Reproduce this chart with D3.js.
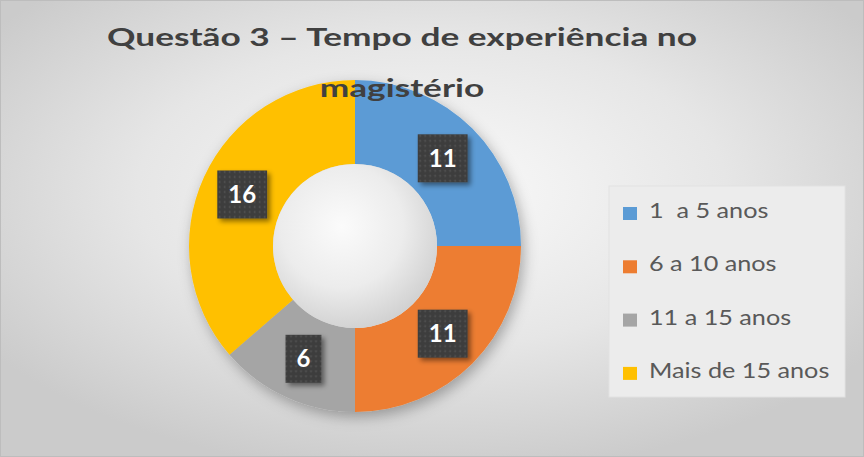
<!DOCTYPE html>
<html>
<head>
<meta charset="utf-8">
<script src="https://cdn.jsdelivr.net/npm/d3@7"></script>
<style>
  html, body { margin: 0; padding: 0; background: #fff; }
  svg { display: block; }
  text { white-space: pre; }
</style>
</head>
<body>
<div id="chart"></div>
<script>
// data
const categories = ["1  a 5 anos", "6 a 10 anos", "11 a 15 anos", "Mais de 15 anos"];
const values = [11, 11, 6, 16];
const colors = ["#5b9bd5", "#ed7d31", "#a5a5a5", "#ffc000"];
const titleLines = ["Questão 3 – Tempo de experiência no", "magistério"];

const W = 864, H = 457;
const cx = 355, cy = 246, rOut = 166, rIn = 82;

const svg = d3.select("#chart").append("svg")
  .attr("width", W).attr("height", H);
const defs = svg.append("defs");

// background gradient
const bg = defs.append("radialGradient").attr("id", "bg")
  .attr("cx", 0.5).attr("cy", 0.42).attr("r", 0.62);
bg.append("stop").attr("offset", "0%").attr("stop-color", "#fafafa");
bg.append("stop").attr("offset", "55%").attr("stop-color", "#e6e6e6");
bg.append("stop").attr("offset", "100%").attr("stop-color", "#cbcbcb");

const hole = defs.append("radialGradient").attr("id", "hole")
  .attr("cx", 0.42).attr("cy", 0.38).attr("r", 0.68);
hole.append("stop").attr("offset", "0%").attr("stop-color", "#fbfbfb");
hole.append("stop").attr("offset", "55%").attr("stop-color", "#ececec");
hole.append("stop").attr("offset", "100%").attr("stop-color", "#cdcdcd");

const shadow = defs.append("filter").attr("id", "shadow")
  .attr("x", "-20%").attr("y", "-20%").attr("width", "140%").attr("height", "140%");
shadow.append("feDropShadow").attr("dx", 3).attr("dy", 5)
  .attr("stdDeviation", 7).attr("flood-color", "#000").attr("flood-opacity", 0.3);

const lblShadow = defs.append("filter").attr("id", "lblShadow")
  .attr("x", "-30%").attr("y", "-30%").attr("width", "170%").attr("height", "170%");
lblShadow.append("feDropShadow").attr("dx", 3).attr("dy", 3)
  .attr("stdDeviation", 2.5).attr("flood-color", "#000").attr("flood-opacity", 0.45);

const dots = defs.append("pattern").attr("id", "dots")
  .attr("width", 5).attr("height", 5).attr("patternUnits", "userSpaceOnUse");
dots.append("rect").attr("width", 5).attr("height", 5).attr("fill", "#3d3d3d");
dots.append("circle").attr("cx", 2.5).attr("cy", 2.5).attr("r", 0.9).attr("fill", "#575757");

svg.append("rect").attr("width", W).attr("height", H).attr("fill", "url(#bg)");
svg.append("rect").attr("x", 0.5).attr("y", 0.5).attr("width", W - 1).attr("height", H - 1)
  .attr("fill", "none").attr("stroke", "#bdbdbd");

// donut
const pie = d3.pie().sort(null).value(d => d)(values);
const arc = d3.arc().innerRadius(rIn).outerRadius(rOut);
const ring = svg.append("g").attr("transform", `translate(${cx},${cy})`);
ring.append("g").attr("filter", "url(#shadow)")
  .selectAll("path").data(pie).join("path")
  .attr("d", arc).attr("fill", (d, i) => colors[i]);
ring.append("circle").attr("r", rIn).attr("fill", "url(#hole)");

// data labels
const lblArc = d3.arc().innerRadius((rIn + rOut) / 2).outerRadius((rIn + rOut) / 2);
const lbl = ring.selectAll("g.lbl").data(pie).join("g")
  .attr("class", "lbl")
  .attr("transform", d => `translate(${lblArc.centroid(d)})`);
const lblRect = lbl.append("rect").attr("fill", "url(#dots)").attr("filter", "url(#lblShadow)");
const lblText = lbl.append("text")
  .attr("text-anchor", "middle").attr("dy", "0.36em")
  .attr("font-family", "Lato, 'Open Sans', sans-serif")
  .attr("font-weight", "bold").attr("font-size", 24)
  .attr("fill", "#fff")
  .text(d => d.data);
lblText.each(function (d, i) {
  const w = this.getComputedTextLength();
  d3.select(lblRect.nodes()[i])
    .attr("x", -(w + 22) / 2).attr("y", -24)
    .attr("width", w + 22).attr("height", 48);
});

// title (on top of the ring)
const title = svg.append("g");
const tl = title.selectAll("text").data(titleLines).join("text")
  .attr("x", 402).attr("y", (d, i) => 46 + i * 51)
  .attr("text-anchor", "middle")
  .attr("font-family", "Lato, 'Open Sans', sans-serif")
  .attr("font-weight", "bold").attr("font-size", 25)
  .attr("fill", "#404040")
  .text(d => d);
const w0 = tl.nodes()[0].getComputedTextLength();
const stretch = 590 / w0;
tl.each(function () {
  const w = this.getComputedTextLength();
  d3.select(this).attr("textLength", w * stretch).attr("lengthAdjust", "spacingAndGlyphs");
});

// legend
const legend = svg.append("g").attr("transform", "translate(609,186)");
legend.append("rect").attr("width", 236).attr("height", 211)
  .attr("fill", "#ececec").attr("stroke", "#e2e2e2");
const item = legend.selectAll("g.item").data(categories).join("g")
  .attr("class", "item")
  .attr("transform", (d, i) => `translate(0,${32 + i * 53.3})`);
item.append("rect").attr("x", 14).attr("y", -11).attr("width", 14).attr("height", 13)
  .attr("fill", (d, i) => colors[i]);
item.append("text").attr("x", 40)
  .attr("font-family", "Lato, 'Open Sans', sans-serif")
  .attr("font-size", 21).attr("fill", "#595959")
  .text(d => d)
  .each(function () {
    const w = this.getComputedTextLength();
    d3.select(this).attr("textLength", w * 1.2).attr("lengthAdjust", "spacingAndGlyphs");
  });
</script>
</body>
</html>
